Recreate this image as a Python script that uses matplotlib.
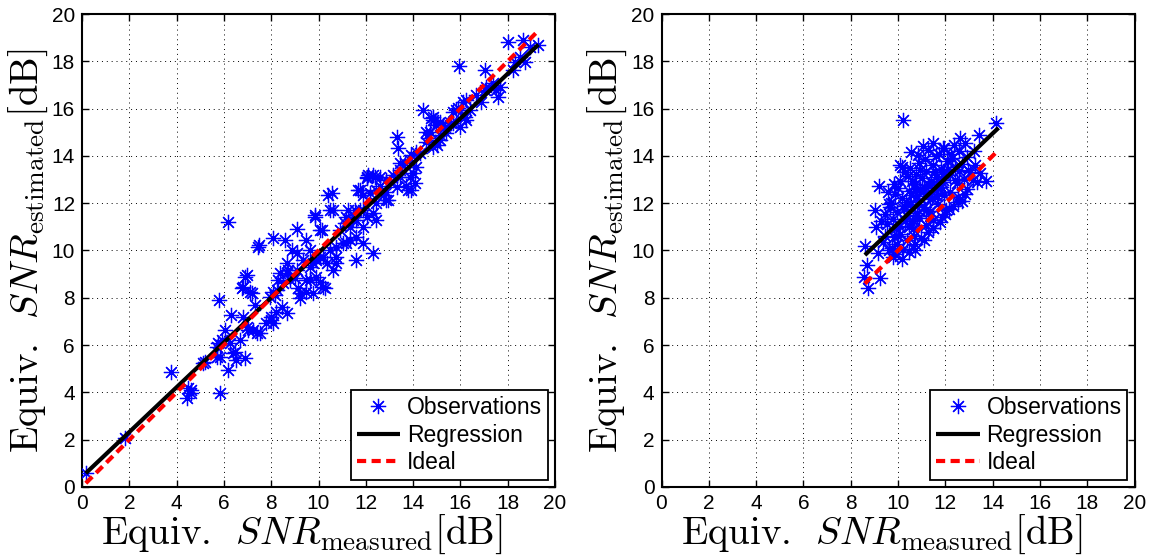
import matplotlib
matplotlib.use('Agg')
import matplotlib.pyplot as plt
import numpy as np

plt.rcParams['mathtext.fontset'] = 'cm'
plt.rcParams['font.family'] = ['Liberation Sans', 'DejaVu Sans']

# ---------------- data ----------------
left_measured = [
    0.16, 1.82, 3.76, 4.49, 4.42, 4.61, 4.63, 5.83, 5.80, 6.18, 6.32, 6.82, 6.96, 6.75, 7.17, 7.31,
    6.04, 5.76, 5.69, 5.12, 6.39, 6.89, 6.68, 6.96, 7.24, 7.52, 8.01, 8.22, 8.44, 8.65, 8.08, 8.29,
    8.72, 9.14, 9.21, 10.27, 12.31, 7.45, 7.50, 8.08, 9.07, 9.77, 10.06, 10.34, 10.62, 10.76, 11.18,
    11.60, 11.89, 9.63, 10.06, 9.49, 8.51, 9.00, 8.65, 6.17, 8.58, 9.07, 9.49, 8.86, 9.85, 10.41,
    10.48, 10.06, 11.67, 12.03, 11.25, 11.11, 11.46, 11.74, 9.63, 9.91, 10.20, 10.48, 10.76, 11.04,
    11.32, 11.60, 11.88, 6.89, 7.10, 8.65, 8.37, 9.07, 9.35, 9.63, 8.79, 9.49, 9.91, 10.20, 10.76,
    9.77, 9.21, 8.23, 7.94, 6.82, 8.15, 8.01, 7.03, 7.38, 7.80, 8.08, 5.83, 6.46, 6.53, 5.20, 5.90,
    6.25, 5.69,
    18.01, 18.65, 19.28, 18.72, 18.22, 17.66, 17.59, 17.03, 15.94, 17.03, 16.68, 16.89, 16.25, 16.39,
    16.18, 15.83, 15.97, 15.62, 15.41, 15.12, 14.42, 14.77, 14.98, 14.56, 14.63, 14.84, 14.14, 13.86,
    13.30, 13.36, 13.43, 14.00, 13.43, 13.93, 13.01, 12.59, 12.38, 12.09, 12.17, 11.75, 12.73, 12.94,
    12.45, 12.31, 12.03, 11.89, 11.53, 11.18, 10.62, 9.84, 10.13, 10.90, 11.32, 11.60, 12.45, 12.87,
    13.72,
    13.93, 13.65, 14.14, 13.86, 14.07, 13.79, 13.44, 13.15, 12.87, 12.59, 12.31, 12.03, 11.88, 12.45,
    12.87, 13.30, 14.84, 15.27, 14.70, 15.13, 14.56, 14.99, 14.28, 10.55,
    18.93, 18.50, 18.29, 17.52, 17.38, 17.10, 16.11, 15.90, 15.69, 14.84, 15.13, 15.34, 15.69, 16.25,
]
left_estimated = [
    0.58, 2.06, 4.88, 4.17, 3.75, 4.10, 3.96, 3.96, 7.90, 4.95, 7.27, 7.20, 8.96, 8.40, 8.19, 7.70,
    6.64, 6.08, 5.51, 5.23, 5.65, 5.44, 6.22, 6.78, 6.64, 6.50, 7.06, 7.41, 7.62, 7.34, 8.26, 8.75,
    9.18, 8.40, 7.98, 8.40, 9.88, 10.16, 10.22, 10.52, 9.88, 9.46, 9.74, 9.46, 9.18, 9.74, 10.30,
    9.60, 10.30, 8.75, 8.68, 8.26, 8.61, 8.82, 9.04, 11.20, 10.44, 10.93, 10.44, 10.02, 11.50, 12.35,
    11.71, 10.87, 12.56, 13.12, 11.71, 11.15, 11.29, 11.71, 10.02, 9.60, 9.74, 10.02, 10.16, 10.30,
    10.44, 10.58, 11.01, 8.89, 8.26, 9.46, 9.04, 9.18, 9.60, 9.32, 8.75, 8.75, 8.89, 8.47, 9.46,
    8.19, 8.19, 8.33, 8.05, 8.47, 8.12, 7.20, 6.64, 6.50, 6.92, 6.92, 5.51, 5.72, 5.37, 5.30, 6.22,
    6.08, 5.93,
    18.83, 18.90, 18.69, 17.98, 17.63, 16.93, 16.50, 17.63, 17.80, 16.79, 16.58, 16.29, 16.36, 15.94,
    15.66, 15.94, 15.24, 15.38, 14.95, 14.67, 15.94, 15.59, 15.31, 15.03, 14.74, 14.39, 14.18, 13.83,
    14.81, 14.32, 13.69, 13.26, 13.12, 12.56, 12.91, 12.71, 13.12, 13.19, 12.42, 12.56, 12.35, 12.14,
    11.99, 11.57, 11.43, 11.71, 11.71, 11.43, 11.71, 11.43, 10.87, 10.87, 11.01, 11.29, 11.29, 12.14,
    12.71,
    14.04, 13.69, 13.55, 13.12, 12.84, 12.56, 13.41, 13.20, 12.98, 13.12, 13.20, 13.05, 12.35, 12.56,
    12.49, 12.70, 15.52, 15.31, 15.02, 14.88, 14.60, 14.46, 14.11, 12.42,
    18.62, 18.20, 17.98, 16.79, 17.07, 16.93, 16.29, 16.01, 15.87, 15.66, 15.45, 15.24, 15.38, 15.52,
]

right_measured = [
    8.60, 8.55, 8.72, 8.67, 9.16, 9.23, 9.02, 9.09, 9.20, 9.58, 10.22, 10.15, 10.57, 11.48, 12.61,
    13.43, 14.16, 13.46, 13.17, 9.79,
    9.35, 9.62, 9.88, 10.21, 10.48, 10.73,
    9.44, 9.81, 10.08, 10.37, 10.66, 10.98, 11.27,
    9.52, 9.77, 10.05, 10.31, 10.58, 10.87, 11.19, 11.46, 11.78,
    9.68, 9.96, 10.27, 10.52, 10.81, 11.08, 11.37, 11.71, 12.02, 12.33,
    9.87, 10.18, 10.46, 10.79, 11.06, 11.34, 11.62, 11.93, 12.21, 12.52, 12.83,
    10.09, 10.42, 10.71, 11.02, 11.28, 11.59, 11.88, 12.19, 12.48, 12.77,
    10.52, 10.88, 11.17, 11.49, 11.83, 12.08, 12.41, 12.69, 12.98,
    10.83, 11.26, 11.61, 11.92, 12.24, 12.57, 12.92,
    9.95, 10.62, 11.12, 11.50, 11.88, 12.15, 12.55, 12.90, 13.05, 13.25, 11.40, 10.95, 10.35,
    10.60, 11.75, 12.35, 11.05, 10.30, 9.70, 9.45, 10.15, 10.70, 11.50, 12.00, 12.70, 13.35, 13.70,
    12.85, 13.20, 11.95, 11.15, 10.75, 10.00, 9.30, 9.90,
    10.40, 10.65, 10.90, 11.20, 11.45, 11.70, 10.25, 10.55, 10.85, 11.10, 11.40, 11.65, 11.95,
    10.70, 10.95, 11.25, 11.55, 11.80, 12.10, 12.40, 10.45, 10.80, 11.35, 11.90, 12.30, 12.60,
    9.60, 9.85, 10.10, 9.75, 10.00,
]
right_estimated = [
    10.20, 8.90, 8.40, 9.39, 9.88, 8.82, 11.71, 11.01, 12.73, 12.49, 15.52, 13.54, 14.18, 14.53, 14.74,
    14.88, 15.38, 13.26, 12.98, 9.74,
    10.35, 10.02, 9.85, 10.05, 9.92, 10.28,
    10.62, 10.55, 10.71, 10.44, 10.63, 10.52, 10.78,
    11.12, 11.33, 11.05, 11.26, 11.18, 11.37, 11.08, 11.30, 11.21,
    11.82, 11.61, 11.75, 11.93, 11.58, 11.86, 11.67, 11.95, 11.72, 11.88,
    12.38, 12.21, 12.52, 12.29, 12.47, 12.18, 12.55, 12.34, 12.49, 12.27, 12.41,
    12.92, 13.15, 12.83, 13.06, 12.78, 13.11, 12.91, 13.18, 12.86, 13.04,
    13.47, 13.71, 13.38, 13.62, 13.44, 13.77, 13.52, 13.66, 13.41,
    14.02, 14.27, 13.98, 14.33, 14.08, 14.21, 13.94,
    10.28, 10.91, 10.45, 10.95, 11.42, 11.75, 12.05, 12.62, 13.32, 13.62, 12.95, 12.62, 12.05,
    12.95, 14.10, 14.45, 14.40, 13.30, 12.00, 11.55, 9.65, 10.00, 10.95, 11.55, 12.10, 12.90, 12.95,
    14.55, 14.20, 14.35, 13.85, 13.25, 12.65, 11.25, 10.95,
    11.45, 11.25, 11.95, 11.70, 12.20, 12.70, 11.90, 12.35, 12.05, 12.65, 12.90, 12.30, 13.25,
    12.60, 13.40, 12.40, 13.30, 12.70, 13.45, 13.00, 11.00, 11.50, 11.45, 13.00, 13.90, 13.35,
    11.95, 12.80, 13.60, 10.10, 10.60,
]

# regression lines (slope, intercept) and x-ranges
left_reg_slope, left_reg_intercept = 0.947, 0.43
left_x_range = [0.16, 19.3]
right_reg_slope, right_reg_intercept = 0.952, 1.62
right_x_range = [8.6, 14.25]

tick_values = list(range(0, 21, 2))
legend_labels = ['Observations', 'Regression', 'Ideal']
xlabel_text = r'$\mathrm{Equiv.}\ \,SNR_{\mathrm{measured}}[\mathrm{dB}]$'
ylabel_text = r'$\mathrm{Equiv.}\ \,SNR_{\mathrm{estimated}}[\mathrm{dB}]$'

# ---------------- figure ----------------
W, H = 1166, 558
fig = plt.figure(figsize=(W / 100, H / 100), dpi=100)
ax1 = fig.add_axes([82 / W, 71 / H, 473 / W, 473 / H])
ax2 = fig.add_axes([661.5 / W, 71 / H, 473 / W, 473 / H])

asterisk = (8, 2, 0)


def draw(ax, xm, ye, slope, intercept, xr):
    ax.plot(xm, ye, linestyle='none', marker=asterisk, ms=11, mew=0.9,
            color='blue', label=legend_labels[0], zorder=3)
    xr = np.array(xr)
    ax.plot(xr, slope * xr + intercept, color='black', lw=3,
            label=legend_labels[1], zorder=4, solid_capstyle='butt')
    ax.plot(xr, xr, color='red', lw=3, linestyle=(0, (2.2, 1.3)),
            label=legend_labels[2], zorder=5)
    ax.set_xlim(0, 20)
    ax.set_ylim(0, 20)
    ax.set_xticks(tick_values)
    ax.set_yticks(tick_values)
    ax.grid(True, linestyle=(0, (1, 4)), color='black', linewidth=0.7)
    ax.set_axisbelow(True)
    ax.tick_params(direction='in', top=True, right=True, length=5, width=1,
                   labelsize=15, pad=5)
    for s in ax.spines.values():
        s.set_linewidth(1.5)
    ax.set_xlabel(xlabel_text, fontsize=28)
    ax.set_ylabel(ylabel_text, fontsize=28)
    ax.xaxis.set_label_coords(0.465, -0.054, transform=ax.transAxes)
    ax.xaxis.label.set_va('top')
    ax.yaxis.set_label_coords(-0.114, 0.5, transform=ax.transAxes)
    ax.yaxis.label.set_va('center')
    leg = ax.legend(loc='lower right', bbox_to_anchor=(0.985, 0.015),
                    borderaxespad=0, fancybox=False, edgecolor='black',
                    framealpha=1, fontsize=16.5, handlelength=1.9,
                    handletextpad=0.3, labelspacing=0.2, borderpad=0.25)
    leg.get_frame().set_linewidth(1.3)


draw(ax1, left_measured, left_estimated, left_reg_slope, left_reg_intercept, left_x_range)
draw(ax2, right_measured, right_estimated, right_reg_slope, right_reg_intercept, right_x_range)

fig.savefig('out.png', dpi=100)
